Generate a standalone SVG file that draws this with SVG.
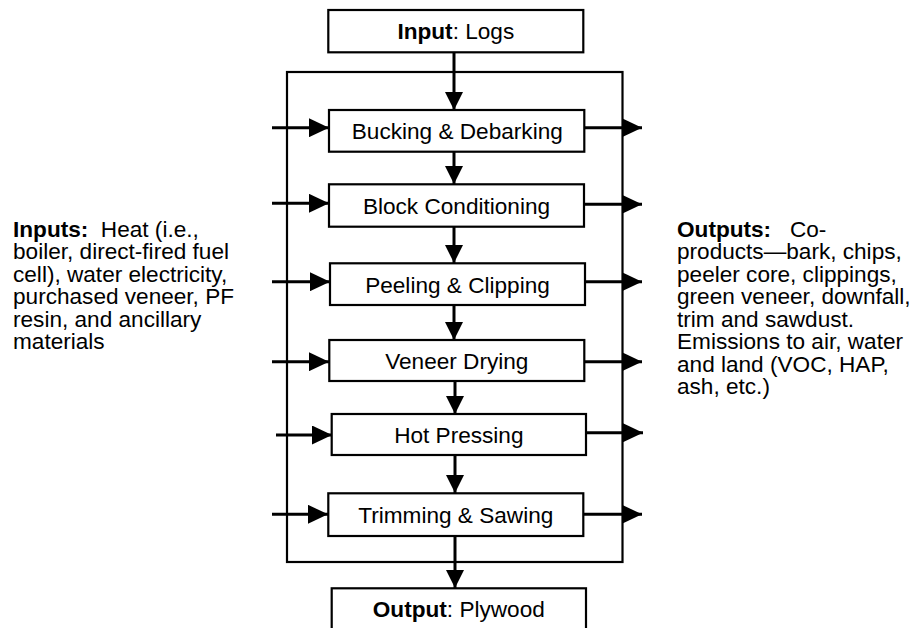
<svg xmlns="http://www.w3.org/2000/svg" width="914" height="628" viewBox="0 0 914 628">
<defs>
<marker id="ah" markerWidth="20" markerHeight="19" refX="20" refY="9.5" orient="auto" markerUnits="userSpaceOnUse">
<path d="M0,0 L20,9.5 L0,19 Z" fill="#000"/>
</marker>
<marker id="av" markerWidth="18" markerHeight="18" refX="18" refY="9" orient="auto" markerUnits="userSpaceOnUse">
<path d="M0,0 L18,9 L0,18 Z" fill="#000"/>
</marker>
</defs>
<style>
.box{fill:#fff;stroke:#000;stroke-width:2.2}
.t{font-family:"Liberation Sans",Arial,sans-serif;font-size:22.6px;fill:#000}
.c{text-anchor:middle}
.b{font-weight:bold}
.ln{stroke:#000;stroke-width:3;fill:none}
</style>
<rect x="287" y="72" width="335.5" height="490" fill="none" stroke="#000" stroke-width="2.2"/>
<g id="connectors">
<line class="ln" x1="454" y1="52" x2="454" y2="110" marker-end="url(#av)"/>
<line class="ln" x1="454" y1="152" x2="454" y2="184" marker-end="url(#av)"/>
<line class="ln" x1="454" y1="227" x2="454" y2="263" marker-end="url(#av)"/>
<line class="ln" x1="454" y1="305" x2="454" y2="340" marker-end="url(#av)"/>
<line class="ln" x1="455" y1="381" x2="455" y2="414" marker-end="url(#av)"/>
<line class="ln" x1="455" y1="455" x2="455" y2="493" marker-end="url(#av)"/>
<line class="ln" x1="455" y1="536" x2="455" y2="588" marker-end="url(#av)"/>
<line class="ln" x1="272" y1="127.7" x2="329" y2="127.7" marker-end="url(#ah)"/>
<line class="ln" x1="272" y1="203.3" x2="329" y2="203.3" marker-end="url(#ah)"/>
<line class="ln" x1="272" y1="281.7" x2="330" y2="281.7" marker-end="url(#ah)"/>
<line class="ln" x1="272" y1="361.7" x2="329" y2="361.7" marker-end="url(#ah)"/>
<line class="ln" x1="276" y1="435" x2="332" y2="435" marker-end="url(#ah)"/>
<line class="ln" x1="272" y1="514.3" x2="328" y2="514.3" marker-end="url(#ah)"/>
<line class="ln" x1="584" y1="127.7" x2="642" y2="127.7" marker-end="url(#ah)"/>
<line class="ln" x1="584" y1="204.3" x2="642" y2="204.3" marker-end="url(#ah)"/>
<line class="ln" x1="585" y1="281.7" x2="642" y2="281.7" marker-end="url(#ah)"/>
<line class="ln" x1="584" y1="361.7" x2="642" y2="361.7" marker-end="url(#ah)"/>
<line class="ln" x1="586" y1="432.7" x2="643" y2="432.7" marker-end="url(#ah)"/>
<line class="ln" x1="583" y1="514.3" x2="642" y2="514.3" marker-end="url(#ah)"/>
</g>
<g id="input">
<rect class="box" x="328.3" y="10" width="255" height="42.3"/>
<text class="t c" x="455.8" y="39.3"><tspan class="b">Input</tspan>: Logs</text>
</g>
<g id="bucking">
<rect class="box" x="329" y="110" width="255.3" height="41.7"/>
<text class="t c" x="457.3" y="138.5">Bucking &amp; Debarking</text>
</g>
<g id="block">
<rect class="box" x="329" y="184.3" width="255" height="42.4"/>
<text class="t c" x="456.5" y="214">Block Conditioning</text>
</g>
<g id="peeling">
<rect class="box" x="330" y="263.3" width="255" height="41.7"/>
<text class="t c" x="457.5" y="292.7">Peeling &amp; Clipping</text>
</g>
<g id="veneer">
<rect class="box" x="329.3" y="340" width="255" height="41"/>
<text class="t c" x="456.8" y="369.3">Veneer Drying</text>
</g>
<g id="hot">
<rect class="box" x="331.7" y="414" width="254.3" height="41"/>
<text class="t c" x="458.8" y="442.7">Hot Pressing</text>
</g>
<g id="trimming">
<rect class="box" x="328.3" y="493.3" width="255" height="42.7"/>
<text class="t c" x="455.8" y="522.7">Trimming &amp; Sawing</text>
</g>
<g id="output">
<rect class="box" x="331.7" y="588.3" width="254.3" height="50"/>
<text class="t c" x="458.8" y="616.7"><tspan class="b">Output</tspan>: Plywood</text>
</g>
<g id="inputs-text">
<text class="t" x="13" y="236.7" xml:space="preserve"><tspan class="b">Inputs:</tspan>  Heat (i.e.,</text>
<text class="t" x="13" y="259.3">boiler, direct-fired fuel</text>
<text class="t" x="13" y="281.7">cell), water electricity,</text>
<text class="t" x="13" y="304.3">purchased veneer, PF</text>
<text class="t" x="13" y="326.7">resin, and ancillary</text>
<text class="t" x="13" y="349.3">materials</text>
</g>
<g id="outputs-text">
<text class="t" x="677" y="236.7" xml:space="preserve"><tspan class="b">Outputs:</tspan>   Co-</text>
<text class="t" x="677" y="259.3">products—bark, chips,</text>
<text class="t" x="677" y="281.7">peeler core, clippings,</text>
<text class="t" x="677" y="304.3">green veneer, downfall,</text>
<text class="t" x="677" y="326.7">trim and sawdust.</text>
<text class="t" x="677" y="349.3">Emissions to air, water</text>
<text class="t" x="677" y="371.7">and land (VOC, HAP,</text>
<text class="t" x="677" y="394.3">ash, etc.)</text>
</g>
</svg>
